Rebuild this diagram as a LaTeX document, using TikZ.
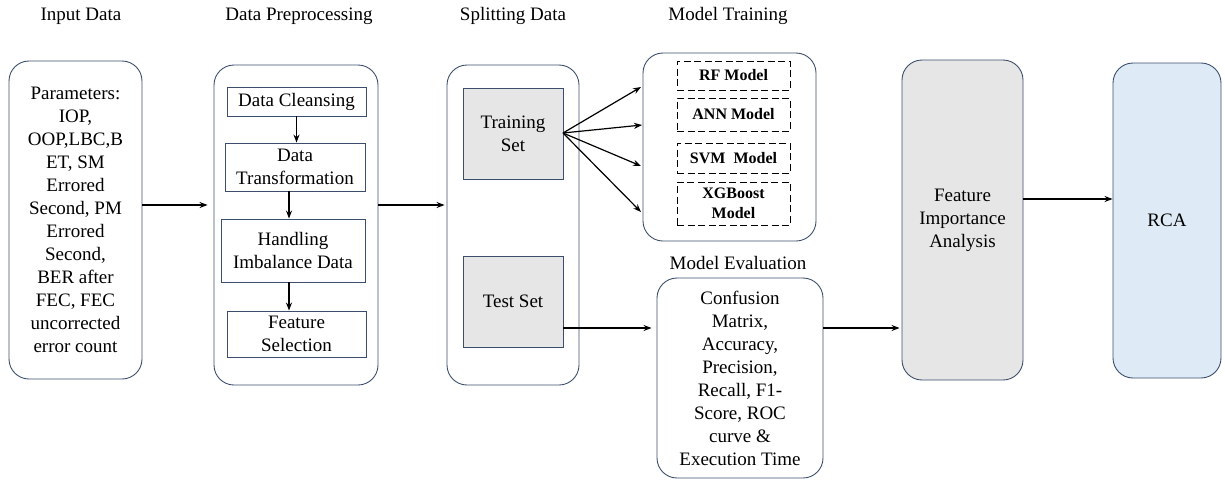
\documentclass[tikz,border=0pt]{standalone}
\usepackage{fontspec}
\setmainfont{Liberation Serif}
\usetikzlibrary{arrows.meta}
\definecolor{bordc}{RGB}{60,78,108}
\definecolor{grayfill}{RGB}{231,230,230}
\definecolor{bluefill}{RGB}{222,235,247}
\tikzset{
  rbox/.style={draw=bordc, line width=0.9pt, rounded corners=20pt, inner sep=0pt, align=center, font=\fontsize{19}{23}\selectfont},
  sbox/.style={draw=bordc, line width=0.9pt, inner sep=0pt, align=center, font=\fontsize{19}{23}\selectfont},
  dbox/.style={draw=black, line width=0.8pt, dash pattern=on 7pt off 3.5pt, inner sep=0pt, align=center, font=\fontsize{16}{20}\selectfont\bfseries},
  ttl/.style={inner sep=0pt, font=\fontsize{19}{23}\selectfont},
  arr/.style={line width=1.2pt, -{Stealth[length=8pt,width=6pt]}}
}
\begin{document}
\begin{tikzpicture}[x=1pt,y=-1pt]
\useasboundingbox (0,0) rectangle (1225,480);
% titles
\node[ttl] (t1) at (81,16) {Input Data};
\node[ttl] (t2) at (299,16) {Data Preprocessing};
\node[ttl] (t3) at (513,16) {Splitting Data};
\node[ttl] (t4) at (728,16) {Model Training};
\node[ttl] (t5) at (738,263) {Model Evaluation};
% input
\node[rbox, minimum width=133pt, minimum height=318pt] (in) at (75.5,220)
 {Parameters:\\IOP,\\OOP,LBC,B\\ET, SM\\Errored\\Second, PM\\Errored\\Second,\\BER after\\FEC, FEC\\uncorrected\\error count};
% preprocessing
\node[rbox, minimum width=164pt, minimum height=320pt] (pre) at (296,225) {};
\node[sbox, minimum width=139pt, minimum height=29pt] (cl) at (296.5,101.5) {Data Cleansing};
\node[sbox, minimum width=140pt, minimum height=48pt] (tf) at (295,167) {Data\\Transformation};
\node[sbox, minimum width=144pt, minimum height=63pt] (hd) at (293,250.5) {Handling\\Imbalance Data};
\node[sbox, minimum width=139pt, minimum height=46pt] (fs) at (296.5,334) {Feature\\Selection};
% splitting
\node[rbox, minimum width=132pt, minimum height=320pt] (sp) at (513,225) {};
\node[sbox, fill=grayfill, minimum width=100pt, minimum height=91pt] (tr) at (513,133.5) {Training\\Set};
\node[sbox, fill=grayfill, minimum width=100pt, minimum height=91pt] (te) at (513,301.5) {Test Set};
% model training
\node[rbox, minimum width=173pt, minimum height=188pt] (mt) at (729.5,147) {};
\node[dbox, minimum width=113pt, minimum height=29pt] (rf) at (733.5,75.5) {RF Model};
\node[dbox, minimum width=113pt, minimum height=33pt] (ann) at (733.5,114.5) {ANN Model};
\node[dbox, minimum width=113pt, minimum height=30pt] (svm) at (733.5,158) {SVM\ \ Model};
\node[dbox, minimum width=113pt, minimum height=43pt] (xgb) at (733.5,203.5) {XGBoost\\Model};
% evaluation
\node[rbox, minimum width=166pt, minimum height=200pt] (ev) at (740,378)
 {Confusion\\Matrix,\\Accuracy,\\Precision,\\Recall, F1-\\Score, ROC\\curve \&\\Execution Time};
% FIA and RCA
\node[rbox, fill=grayfill, minimum width=121pt, minimum height=320pt] (fia) at (962.5,220) {Feature\\Importance\\Analysis};
\node[rbox, fill=bluefill, minimum width=108pt, minimum height=315pt] (rca) at (1167,220.5) {RCA};
% connectors
\coordinate (a1) at ([yshift=15pt]in.east);
\draw[arr, shorten >=6pt] (a1) -- (a1 -| pre.west);
\coordinate (a2) at ([yshift=20pt]pre.east);
\draw[arr, shorten >=2pt] (a2) -- (a2 -| sp.west);
\draw[arr] (cl.south) -- (cl.south |- tf.north);
\draw[arr] ([xshift=-6pt]tf.south) -- ([xshift=-6pt]tf.south |- hd.north);
\draw[arr] ([xshift=-4pt]hd.south) -- ([xshift=-4pt]hd.south |- fs.north);
\coordinate (o) at (563,133);
\coordinate (e1) at (641,87);
\coordinate (e2) at (642,125);
\coordinate (e3) at (641,166);
\coordinate (e4) at (641,212);
\draw[arr] (o) -- (e1);
\draw[arr] (o) -- (e2);
\draw[arr] (o) -- (e3);
\draw[arr] (o) -- (e4);
\coordinate (a3) at ([yshift=-26.5pt]te.east);
\draw[arr, shorten >=5pt] (a3) -- (a3 -| ev.west);
\coordinate (a4) at ([yshift=50pt]ev.east);
\draw[arr, shorten >=2pt] (a4) -- (a4 -| fia.west);
\coordinate (a5) at ([yshift=21pt]fia.east);
\draw[arr] (a5) -- (a5 -| rca.west);
\end{tikzpicture}
\end{document}
